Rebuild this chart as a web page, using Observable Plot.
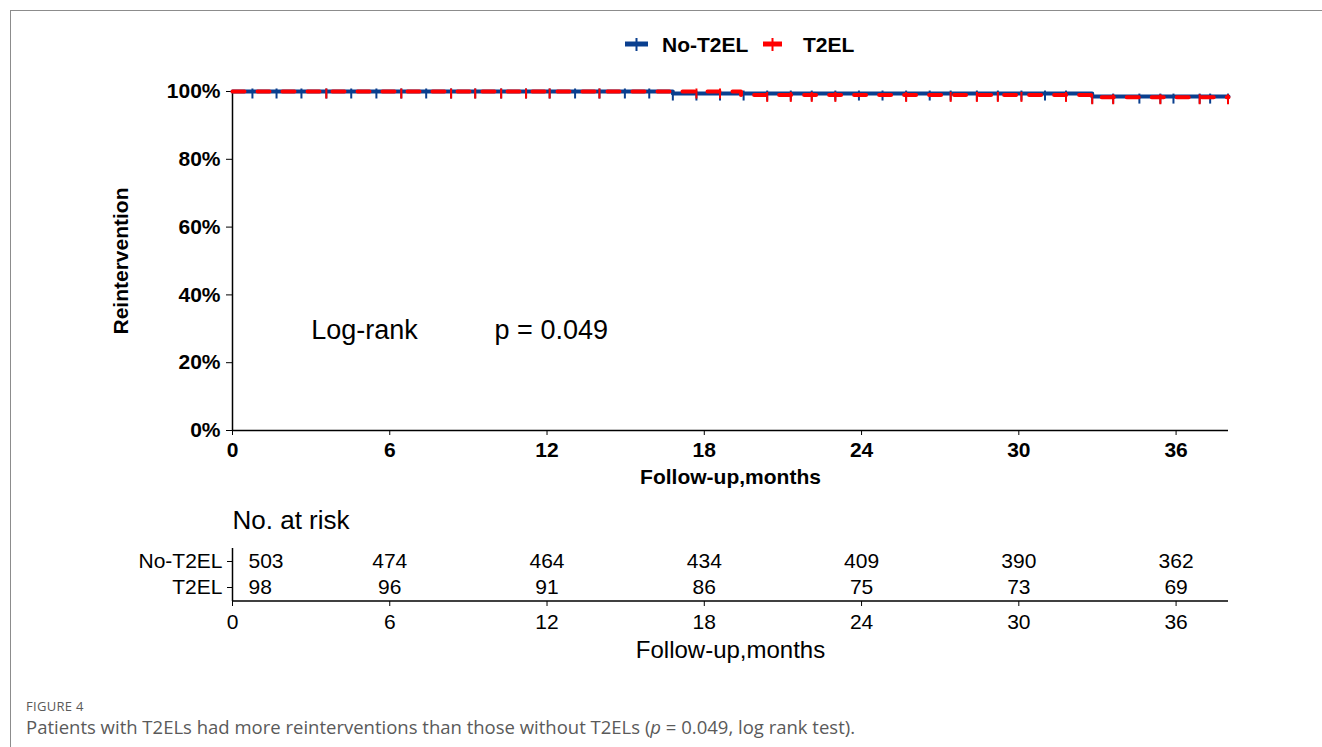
<!DOCTYPE html>
<html><head><meta charset="utf-8">
<script src="https://cdn.jsdelivr.net/npm/d3@7"></script>
<script src="https://cdn.jsdelivr.net/npm/@observablehq/plot@0.6"></script>
<style>
html,body{margin:0;padding:0;background:#fff;}
#wrap{position:relative;width:1322px;height:747px;overflow:hidden;font-family:"Liberation Sans",Arial,sans-serif;background:#fff;}
#frame{position:absolute;left:10px;top:10px;right:-5px;bottom:-5px;border-top:1.5px solid #8c8c8c;border-left:1.5px solid #8c8c8c;}
#main,#risk,#legend{position:absolute;left:0;}
#main{top:0}
#risk{top:500px}
#legend{top:0}
#cap1{position:absolute;left:26px;top:699px;height:14px;line-height:14px;font-family:"Open Sans",sans-serif;font-size:13px;letter-spacing:0.3px;color:#5a5a5a;}
#cap2{position:absolute;left:26px;top:717px;height:20px;line-height:20px;font-family:"Open Sans",sans-serif;font-size:18.5px;color:#5a5a5a;white-space:nowrap;}
</style></head>
<body>
<div id="wrap">
  <div id="frame"></div>
  <div id="main"></div>
  <div id="risk"></div>
  <svg id="legend" width="1322" height="70"></svg>
  <div id="cap1">FIGURE 4</div>
  <div id="cap2">Patients with T2ELs had more reinterventions than those without T2ELs (<i>p</i> = 0.049, log rank test).</div>
</div>
<script>
// ---- data ----
const groups = ["No-T2EL", "T2EL"];
const colors = ["#0a3f8f", "#ff0000"];
const monthTicks = [0, 6, 12, 18, 24, 30, 36];
const pctTicks = [0, 20, 40, 60, 80, 100];
// Kaplan-Meier step points (months, % free)
const noT2Time = [0, 16.8, 32.8, 38];
const noT2Surv = [100, 99.4, 98.5, 98.5];
const t2Time = [0, 19.4, 32.8, 38];
const t2Surv = [100, 99.0, 98.3, 98.3];
// censor marks (months)
const noT2Censor = [0.76, 1.68, 2.63, 3.58, 4.53, 5.49, 6.44, 7.39, 8.34, 9.26, 10.25, 11.2, 12.1, 13.07, 14.0, 14.97, 15.9, 16.8, 17.7, 18.6, 19.5, 20.4, 21.3, 22.1, 23.0, 23.9, 24.8, 25.7, 26.6, 27.4, 28.4, 29.2, 30.1, 31.0, 31.8, 32.8, 33.6, 34.6, 35.4, 35.9, 36.9, 37.3, 37.98];
const t2Censor = [3.58, 6.44, 8.34, 9.26, 10.25, 11.2, 12.1, 14.0, 17.7, 18.6, 20.4, 21.3, 22.1, 23.0, 25.7, 27.4, 28.4, 29.2, 30.1, 31.8, 32.8, 33.6, 35.4, 36.9, 37.98];
// numbers at risk
const riskNoT2 = [503, 474, 464, 434, 409, 390, 362];
const riskT2 = [98, 96, 91, 86, 75, 73, 69];
const annotations = [{x: 3, y: 29.5, label: "Log-rank"}, {x: 10, y: 29.5, label: "p = 0.049"}];

// ---- build tables ----
const curve = (g, T, S) => T.map((t, i) => ({group: g, t, s: S[i]}));
const curves = [...curve(groups[0], noT2Time, noT2Surv), ...curve(groups[1], t2Time, t2Surv)];
const survAt = (T, S, t) => { let v = S[0]; T.forEach((tt, i) => { if (tt <= t) v = S[i]; }); return v; };
const censB = noT2Censor.map(t => ({group: groups[0], t, s: survAt(noT2Time, noT2Surv, t)}));
const censR = t2Censor.map(t => ({group: groups[1], t, s: survAt(t2Time, t2Surv, t)}));
const riskRows = [
  ...monthTicks.map((m, i) => ({group: groups[0], m, n: riskNoT2[i]})),
  ...monthTicks.map((m, i) => ({group: groups[1], m, n: riskT2[i]}))
];
const tickSymbol = {draw(ctx) { ctx.moveTo(0, -3); ctx.lineTo(0, 7); }};
const colorScale = {domain: groups, range: colors};

const main = Plot.plot({
  width: 1322, height: 500,
  marginLeft: 232, marginRight: 94, marginTop: 91, marginBottom: 70,
  style: {fontFamily: "'Liberation Sans', Arial, sans-serif", fontWeight: "bold", fontSize: "21px", color: "#000", background: "transparent"},
  x: {domain: [0, 38]},
  y: {domain: [0, 100]},
  color: colorScale,
  marks: [
    Plot.axisX({ticks: monthTicks, tickSize: 5, tickPadding: 7, label: "Follow-up,months", labelAnchor: "center", labelArrow: "none", labelOffset: 53}),
    Plot.axisY({ticks: pctTicks, tickFormat: d => d + "%", tickSize: 6, tickPadding: 6, label: "Reintervention", labelAnchor: "center", labelArrow: "none", labelOffset: 119}),
    Plot.ruleX([0], {strokeWidth: 1.5}),
    Plot.ruleY([0], {strokeWidth: 1.5}),
    Plot.line(curves.filter(d => d.group === groups[0]), {x: "t", y: "s", stroke: "group", strokeWidth: 4, curve: "step-after"}),
    Plot.dot(censB, {x: "t", y: "s", stroke: "group", symbol: tickSymbol, strokeWidth: 2}),
    Plot.line(curves.filter(d => d.group === groups[1]), {x: "t", y: "s", stroke: "group", strokeWidth: 4, curve: "step-after", strokeDasharray: "12,13"}),
    Plot.dot(censR, {x: "t", y: "s", stroke: "group", symbol: tickSymbol, strokeWidth: 2}),
    Plot.text(annotations, {x: "x", y: "y", text: "label", textAnchor: "start", lineAnchor: "middle", fontSize: 27, fontWeight: "normal"})
  ]
});
document.getElementById("main").appendChild(main);

const risk = Plot.plot({
  width: 1322, height: 180,
  marginLeft: 232, marginRight: 94, marginTop: 48, marginBottom: 79,
  style: {fontFamily: "'Liberation Sans', Arial, sans-serif", fontSize: "21px", color: "#000", background: "transparent"},
  x: {domain: [0, 38]},
  y: {type: "point", domain: groups, range: [61, 87], padding: 0},
  marks: [
    Plot.axisX({ticks: monthTicks, tickSize: 5, tickPadding: 8, label: null}),
    Plot.axisY({tickSize: 5, tickPadding: 5, label: null}),
    Plot.ruleX([0], {strokeWidth: 1.5}),
    (index, scales) => {
      const g = d3.create("svg:g");
      const yb = 101;
      g.append("line").attr("x1", scales.x(0)).attr("x2", scales.x(38)).attr("y1", yb).attr("y2", yb).attr("stroke", "#000").attr("stroke-width", 1.5);
      return g.node();
    },
    Plot.text(riskRows.filter(d => d.m === 0), {x: "m", y: "group", text: "n", textAnchor: "start", dx: 16}),
    Plot.text(riskRows.filter(d => d.m !== 0), {x: "m", y: "group", text: "n"}),
    Plot.text(["No. at risk"], {frameAnchor: "top-left", textAnchor: "start", lineAnchor: "middle", dy: -28, fontSize: 26}),
    Plot.text(["Follow-up,months"], {frameAnchor: "bottom", lineAnchor: "middle", dy: 49, fontSize: 24})
  ]
});
document.getElementById("risk").appendChild(risk);

// legend
const leg = d3.select("#legend");
const items = [{x0: 625, x1: 648, tx: 662}, {x0: 763, x1: 782, tx: 803}];
items.forEach((it, i) => {
  leg.append("line").attr("x1", it.x0).attr("x2", it.x1).attr("y1", 44).attr("y2", 44).attr("stroke", colors[i]).attr("stroke-width", 5);
  const cx = (it.x0 + it.x1) / 2;
  leg.append("line").attr("x1", cx).attr("x2", cx).attr("y1", 38).attr("y2", 51).attr("stroke", colors[i]).attr("stroke-width", 2);
  leg.append("text").attr("x", it.tx).attr("y", 51.5).attr("font-family", "'Liberation Sans', Arial, sans-serif").attr("font-weight", "bold").attr("font-size", 21).attr("fill", "#000").text(groups[i]);
});
</script>
</body></html>
